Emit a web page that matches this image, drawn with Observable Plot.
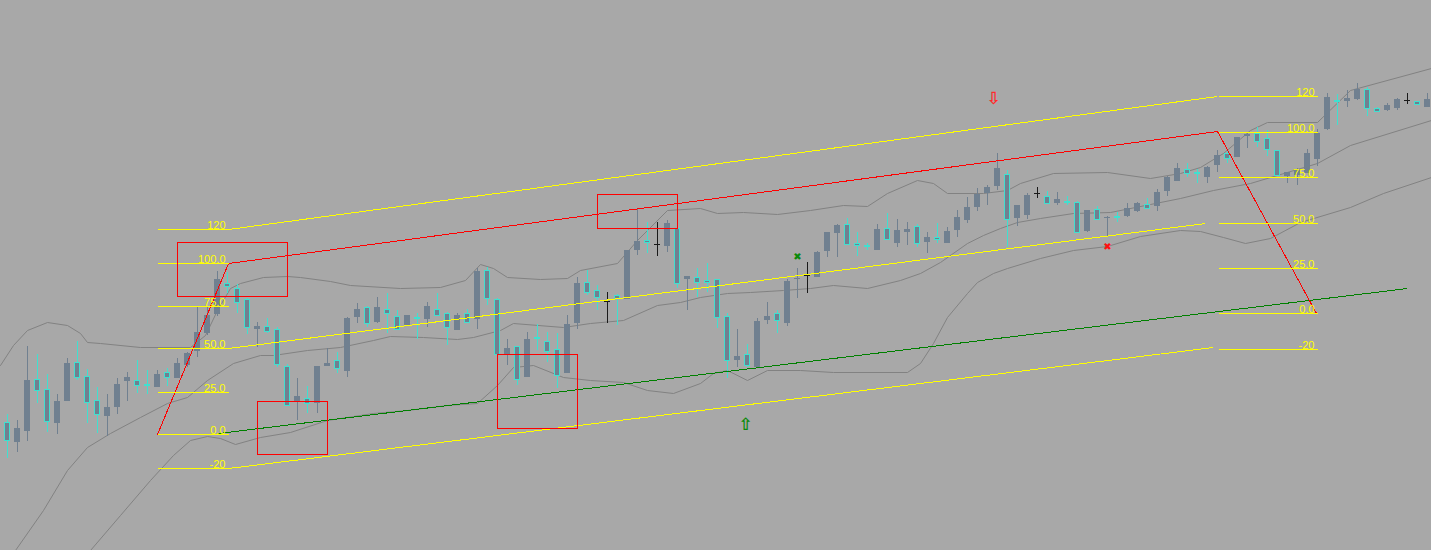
<!DOCTYPE html>
<html><head><meta charset="utf-8">
<style>html,body{margin:0;padding:0;background:#a8a8a8;overflow:hidden}</style>
<script src="https://cdn.jsdelivr.net/npm/d3@7"></script>
<script src="https://cdn.jsdelivr.net/npm/@observablehq/plot@0.6"></script>
</head><body><div id="chart"></div>
<script>
// Bar index (time) for every candle
const barIndex = d3.range(-1, 143);
const open = [110,
 128,108,119,171,161,127,149,188,174,150,
 134,143,169,170,166,163,178,172,185,199,
 217,236,267,262,251,221,224,221,184,148,
 152,147,184,190,179,233,243,228,241,234,
 225,233,231,241,237,220,237,231,280,251,
 195,204,173,213,209,201,177,227,268,260,
 249,255,251,300,310,306,304,322,271,273,
 270,271,234,190,196,183,230,237,227,271,
 275,273,299,317,326,307,305,300,322,307,
 318,324,308,313,307,320,330,343,357,364,
 376,332,335,357,354,347,349,348,319,341,
 332,334,334,339,346,344,359,369,381,378,
 373,385,397,393,414,417,412,400,374,375,
 377,391,421,450,449,451,461,442,440,442,
 450,449,443];
const high = [120,
 136,130,204,196,176,156,192,209,181,163,
 156,172,178,190,180,180,182,192,198,243,
 243,279,278,266,252,228,232,223,186,172,
 164,184,202,198,233,247,244,253,257,240,
 235,237,248,257,238,237,241,282,283,252,
 211,204,218,226,218,217,235,273,280,265,
 258,256,300,341,328,328,330,323,274,282,
 287,271,237,221,206,232,248,240,271,282,
 288,299,318,326,332,318,307,326,337,331,
 328,326,318,327,323,340,353,362,365,397,
 380,345,357,363,359,358,354,349,340,344,
 334,338,347,348,352,361,374,387,387,381,
 384,400,400,413,418,423,420,400,378,382,
 401,421,457,456,460,467,463,443,447,452,
 457,449,457];
const low = [93,
 92,98,109,147,118,116,149,170,127,117,
 114,136,149,157,156,163,164,172,183,193,
 215,234,257,237,216,203,217,183,145,130,
 137,137,184,177,173,227,223,227,217,221,
 225,211,223,235,205,220,227,221,245,195,
 185,165,173,200,188,162,177,221,255,240,
 227,225,251,295,297,294,298,262,240,253,
 258,222,172,183,183,183,226,217,224,252,
 257,273,293,293,305,294,300,300,311,303,
 305,303,297,307,307,313,327,339,345,360,
 303,324,331,352,347,345,345,317,318,331,
 314,328,333,338,341,339,354,369,373,367,
 367,378,387,393,402,403,394,375,367,365,
 377,384,420,425,443,450,434,439,439,440,
 446,446,443];
const close = [103,
 110,122,170,160,129,149,187,173,148,136,
 143,166,173,165,165,176,173,187,197,218,
 235,271,264,248,223,224,219,186,145,154,
 147,184,187,182,232,241,227,243,237,221,
 235,232,244,235,223,235,228,279,252,196,
 202,171,211,212,199,175,226,267,258,253,
 248,252,300,309,308,305,327,267,274,268,
 268,233,190,194,185,229,234,230,269,272,
 274,298,318,325,306,305,304,321,311,320,
 321,307,313,311,319,333,343,356,363,382,
 331,345,355,356,347,351,348,318,340,331,
 333,333,342,347,342,358,373,382,377,377,
 383,395,392,413,416,409,401,375,378,380,
 397,417,453,449,452,461,442,439,445,451,
 449,446,451];
const blackBars = [60, 65, 80, 103, 140];

// Bollinger bands: [bar index, price]
const upperBand = [[-0.7,185],[0.6,205],[2,220],[4,228],[6,225],[7.3,217],[8,208],[9.3,207],[13.3,203],[18.3,203],[19.8,215],[21,240],[22.3,262],[23.3,267],[25.6,273],[28,274],[29.3,273],[32.3,269],[34.3,265],[39.3,262],[43.3,263],[45.8,270],[47.3,286],[48.6,282],[50,273],[53.3,271],[56,272],[57.3,280],[61,287],[63,310],[66,340],[69.3,342],[71,337],[73.6,338],[77,336],[80.3,340],[83.6,345],[86,344],[88,357],[91,370],[92.6,367],[94,357],[97.6,357],[100,360],[101.3,367],[104.6,377],[110,378],[114.3,372],[117.3,377],[119.3,383],[121.6,397],[124.3,420],[126,428],[131,428],[134.3,460],[142.4,482]];
const middleBand = [[0.3,-10],[0.8,0],[3.6,40],[6,80],[8,103],[10.3,117],[13.3,133],[16,147],[18,153],[20,170],[22.6,187],[25.3,195],[26.6,195],[30,200],[33.3,203],[36.6,210],[38.3,214],[41.6,213],[45,211],[46.6,213],[49.3,220],[50.6,227],[55.6,223],[58.3,227],[61.6,230],[65,245],[67.3,248],[69.3,253],[72,257],[74.3,258],[77.6,260],[80.3,262],[82.6,265],[86,262],[89.3,270],[91.3,277],[93.3,288],[96,307],[97.6,315],[99.3,322],[101,328],[103.3,332],[106.6,337],[110.3,338],[114.3,346],[117.3,352],[120.6,360],[124.3,367],[131,387],[134.3,405],[142.4,430]];
const lowerBand = [[7.3,-15],[8.3,0],[11.3,35],[14.3,70],[16.6,95],[18.3,110],[20,114],[21.3,112],[22.8,106],[25.3,113],[28.3,118],[32,130],[36.6,137],[40,140],[44,145],[47,147],[49,165],[50.6,183],[52.6,185],[55.6,173],[58.3,170],[61.6,168],[64,160],[66.6,157],[69.3,167],[70.6,177],[72,180],[74,170],[76,180],[79.3,180],[82.6,178],[90,178],[91.3,187],[92.6,207],[94,233],[96,257],[97,268],[98.6,277],[100,282],[103.3,292],[106.6,300],[110,304],[113.3,314],[117.3,320],[119.3,319],[121.6,313],[123.8,307],[126.3,312],[129.3,328],[134.3,343],[137.6,357],[142.4,373]];

// Fibonacci levels (left and right retracements)
const fibLabels = ["120","100.0","75.0","50.0","25.0","0.0","-20"];
const fibLeftPrice = [321,287,244,202,158,116,82];
const fibRightPrice = [454,418,373,327,282,237,201];
const fibLeftBars = [15, 22.1];
const fibRightBars = [121.1, 131];

// Zig-zag trend line (red)
const zigzag = [[15,116],[22.1,287],[121,419],[130.9,237]];

// Sloped channel lines
const channelLevel = ["120","50","-20","0"];
const channelX1 = [22.1,22.1,22.1,21.1];
const channelY1 = [321,202,82,117];
const channelX2 = [121,119.8,120.6,140];
const channelY2 = [454,327,203,262];

// Rectangles
const rectX1 = [17,25,49,59];
const rectX2 = [28,32,57,67];
const rectTop = [308,149,196,356];
const rectBottom = [254,96,122,322];

// Signal markers
const markerType = ["sellArrow","buyArrow","buyCross","sellCross"];
const markerBar = [98.6,73.8,79,110];
const markerPrice = [452,126,294,304];

const candles = barIndex.map((i,k)=>({i,o:open[k],h:high[k],l:low[k],c:close[k]}));
const kind = d => blackBars.includes(d.i) ? "black" : (d.c > d.o ? "bull" : "bear");
const bull = candles.filter(d=>kind(d)==="bull");
const bear = candles.filter(d=>kind(d)==="bear");
const black = candles.filter(d=>kind(d)==="black");

const stubs = [];
fibLabels.forEach((t,k)=>{
  stubs.push({t, x1:fibLeftBars[0], x2:fibLeftBars[1], p:fibLeftPrice[k]});
  stubs.push({t, x1:fibRightBars[0], x2:fibRightBars[1], p:fibRightPrice[k]});
});
const channel = channelLevel.map((lv,k)=>({lv,x1:channelX1[k],y1:channelY1[k],x2:channelX2[k],y2:channelY2[k]}));
const rects = rectX1.map((x,k)=>({x1:x,x2:rectX2[k],y1:rectBottom[k],y2:rectTop[k]}));
const markers = markerType.map((t,k)=>({t,i:markerBar[k],p:markerPrice[k]}));
const sym = {sellArrow:"⇩",buyArrow:"⇧",buyCross:"✖",sellCross:"✖"};
const symColor = {sellArrow:"#ff2a2a",buyArrow:"#0a8a0a",buyCross:"#0a8a0a",sellCross:"#ff1010"};

const BG="#a8a8a8", SLATE="#708090", TURQ="#40e0d0", BAND="#828282", YEL="#ffff00", RED="#ff0000", GRN="#008000";
const crisp = {shapeRendering:"crispEdges"};

const chart = Plot.plot({
  width:1431, height:550, margin:0,
  x:{domain:[-0.7,142.4], axis:null},
  y:{domain:[0,550], axis:null},
  style:{background:BG, overflow:"hidden"},
  marks:[
    Plot.line(upperBand,{x:d=>d[0],y:d=>d[1],stroke:BAND,strokeWidth:1,clip:true}),
    Plot.line(middleBand,{x:d=>d[0],y:d=>d[1],stroke:BAND,strokeWidth:1,clip:true}),
    Plot.line(lowerBand,{x:d=>d[0],y:d=>d[1],stroke:BAND,strokeWidth:1,clip:true}),
    // wicks
    Plot.ruleX(bull,{x:"i",y1:"l",y2:"h",stroke:SLATE,strokeWidth:1,...crisp}),
    Plot.ruleX(bear,{x:"i",y1:"l",y2:"h",stroke:TURQ,strokeWidth:1,...crisp}),
    Plot.ruleX(black,{x:"i",y1:"l",y2:"h",stroke:"#1a1a1a",strokeWidth:1,...crisp}),
    // bodies
    Plot.rect(bull,{x1:d=>d.i-0.3,x2:d=>d.i+0.3,y1:"o",y2:"c",fill:SLATE,...crisp}),
    Plot.rect(bear,{x1:d=>d.i-0.25,x2:d=>d.i+0.25,y1:"o",y2:"c",fill:SLATE,stroke:TURQ,strokeWidth:1,...crisp}),
    Plot.rect(black,{x1:d=>d.i-0.3,x2:d=>d.i+0.3,y1:"o",y2:"c",fill:"#1a1a1a",...crisp}),
    // channel lines
    Plot.link(channel,{x1:"x1",y1:"y1",x2:"x2",y2:"y2",stroke:d=>d.lv==="0"?GRN:YEL,strokeWidth:1,...crisp}),
    Plot.line(zigzag,{x:d=>d[0],y:d=>d[1],stroke:RED,strokeWidth:1,...crisp}),
    // fibo stubs
    Plot.link(stubs,{x1:"x1",x2:"x2",y1:"p",y2:"p",stroke:YEL,strokeWidth:1,...crisp}),
    Plot.text(stubs,{x:d=>d.x2-0.3,y:"p",text:"t",textAnchor:"end",lineAnchor:"bottom",dy:-1,fill:YEL,fontSize:11,fontFamily:"Liberation Sans, Arial, sans-serif"}),
    // rectangles
    Plot.rect(rects,{x1:"x1",x2:"x2",y1:"y1",y2:"y2",fill:"none",stroke:RED,strokeWidth:1,...crisp}),
    // markers
    Plot.text(markers,{x:"i",y:"p",text:d=>sym[d.t],fill:d=>symColor[d.t],fontSize:d=>d.t.endsWith("Arrow")?17:10,fontFamily:"DejaVu Sans",fontWeight:"bold"})
  ],
  color:{type:"identity"}
});
document.getElementById("chart").appendChild(chart);
</script>
</body></html>
